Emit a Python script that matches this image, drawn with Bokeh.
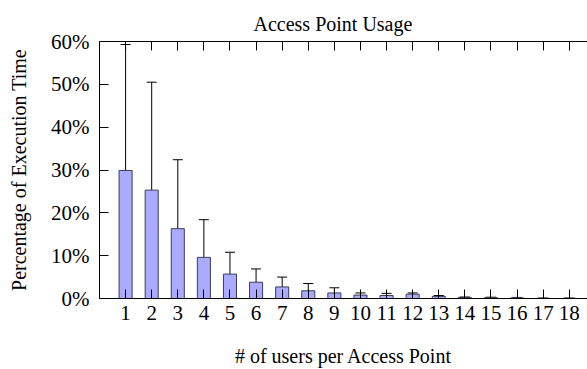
from bokeh.plotting import figure
from bokeh.models import (ColumnDataSource, LinearAxis, FixedTicker, PrintfTickFormatter,
                          Whisker, TeeHead, Range1d, Title)
from bokeh.embed import file_html
from bokeh.resources import INLINE

# Share of execution time by number of users attached to an access point
users = list(range(1, 19))
mean_pct = [29.9, 25.3, 16.3, 9.6, 5.7, 3.8, 2.7, 1.8, 1.3, 0.8, 0.7, 1.0, 0.5, 0.25, 0.2, 0.15, 0.05, 0.05]
err_pct = [29.4, 25.2, 16.1, 8.8, 5.1, 3.1, 2.3, 1.7, 1.2, 0.5, 0.5, 0.3, 0.2, 0.1, 0.1, 0.1, 0.05, 0.05]
y_ticks = [0, 10, 20, 30, 40, 50, 60]

FONT = "Liberation Serif"
FS = "20px"
TICK_FS = "21px"

src = ColumnDataSource(dict(
    x=users,
    top=mean_pct,
    upper=[m + e for m, e in zip(mean_pct, err_pct)],
    lower=[max(m - e, 0) for m, e in zip(mean_pct, err_pct)],
))

p = figure(width=587, height=369, output_backend="svg", toolbar_location=None,
           x_range=Range1d(0, 18.7), y_range=Range1d(0, 60),
           x_axis_location=None, y_axis_location=None,
           min_border_left=99, min_border_right=0, min_border_top=41, min_border_bottom=71)
p.outline_line_color = None
p.grid.visible = False
p.background_fill_color = "white"

p.vbar(x="x", top="top", width=0.5, source=src,
       fill_color="#aaaaff", line_color="#3c3c5a", line_width=1)

whisk = Whisker(base="x", upper="upper", lower="lower", source=src,
                line_color="black", line_width=1,
                upper_head=TeeHead(size=10, line_color="black", line_width=1),
                lower_head=TeeHead(size=10, line_color="black", line_width=1))
p.add_layout(whisk)


def style(ax):
    ax.axis_line_color = "black"
    ax.axis_line_width = 1
    ax.major_tick_in = 9
    ax.major_tick_out = 0
    ax.major_tick_line_color = "black"
    ax.minor_tick_line_color = None
    ax.major_label_text_font = FONT
    ax.major_label_text_font_size = TICK_FS
    ax.major_label_text_color = "black"
    ax.axis_label_text_font = FONT
    ax.axis_label_text_font_size = FS
    ax.axis_label_text_font_style = "normal"
    ax.axis_label_text_color = "black"


yax = LinearAxis(ticker=FixedTicker(ticks=y_ticks),
                 formatter=PrintfTickFormatter(format="%d%%"),
                 axis_label="Percentage of Execution Time")
style(yax)
yax.major_label_standoff = 10
yax.axis_label_standoff = 18
p.add_layout(yax, "left")

xax = LinearAxis(ticker=FixedTicker(ticks=users), axis_label="# of users per Access Point")
style(xax)
xax.major_label_standoff = 7
xax.axis_label_standoff = 22
p.add_layout(xax, "below")

# Mirrored tick marks along the top border, without labels
top_ax = LinearAxis(ticker=FixedTicker(ticks=users),
                    major_label_overrides={u: "" for u in users})
style(top_ax)
top_ax.major_label_standoff = 0
p.add_layout(top_ax, "above")

p.add_layout(Title(text="Access Point Usage", align="left", offset=154, standoff=14,
                   text_font=FONT, text_font_size=FS, text_font_style="normal",
                   text_color="black"), "above")

open("out.html", "w").write(file_html(p, INLINE))
